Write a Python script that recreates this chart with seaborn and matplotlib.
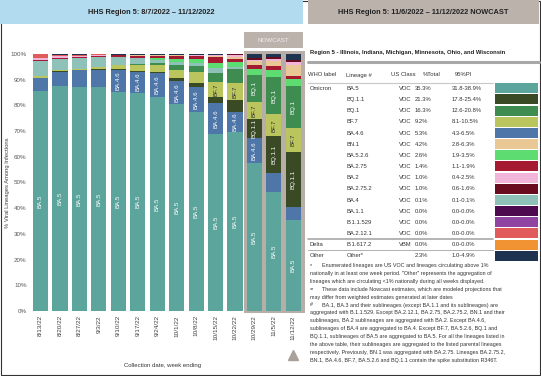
import matplotlib
matplotlib.use("Agg")
import matplotlib.pyplot as plt
from matplotlib.patches import Rectangle
from matplotlib.lines import Line2D
import seaborn as sns
import pandas as pd

W, H = 541, 376

weeks = ["8/13/22", "8/20/22", "8/27/22", "9/3/22", "9/10/22", "9/17/22", "9/24/22",
         "10/1/22", "10/8/22", "10/15/22", "10/22/22", "10/29/22", "11/5/22", "11/12/22"]

# stacking order, bottom to top
lineages = ["BA.5", "BA.4.6", "BQ.1.1", "BF.7", "BQ.1", "BA.4", "BA.5.2.6", "BA.2.75",
            "BN.1", "BA.2", "BA.2.75.2", "BA.2.12.1", "BA.1.1", "B.1.1.529", "B.1.617.2", "Other"]

ba5 = [85.6, 87.5, 87.3, 87.0, 85.3, 85.0, 83.4, 80.5, 77.3, 69.0, 69.5, 57.6, 46.4, 35.3]
ba46 = [5.2, 5.6, 6.5, 6.8, 8.5, 8.1, 9.1, 9.1, 9.7, 12.0, 8.1, 9.6, 7.3, 5.3]
bq11 = [0.0, 0.1, 0.1, 0.2, 0.3, 0.4, 0.6, 0.9, 1.6, 2.2, 4.5, 7.6, 14.3, 21.3]
bf7 = [0.6, 0.5, 0.4, 1.0, 1.6, 2.2, 2.6, 3.3, 4.5, 6.0, 6.5, 6.6, 8.5, 9.2]
bq1 = [0.0, 0.1, 0.0, 0.1, 0.1, 0.4, 0.8, 1.9, 2.2, 3.5, 5.5, 10.4, 14.5, 16.3]
ba4 = [6.0, 4.2, 4.0, 3.6, 2.9, 2.2, 1.3, 1.0, 1.1, 1.7, 0.8, 0.2, 0.2, 0.1]
ba526 = [0.0, 0.0, 0.0, 0.1, 0.2, 0.3, 0.6, 1.3, 1.6, 2.2, 1.8, 2.0, 2.5, 2.6]
ba275 = [0.3, 0.6, 0.7, 0.6, 0.7, 0.8, 1.0, 1.3, 1.2, 2.3, 1.4, 1.6, 1.5, 1.4]
bn1 = [0.0, 0.0, 0.0, 0.0, 0.0, 0.1, 0.1, 0.2, 0.2, 0.3, 0.9, 1.6, 2.2, 4.2]
ba2 = [0.7, 0.6, 0.4, 0.2, 0.2, 0.2, 0.2, 0.2, 0.2, 0.3, 0.5, 0.6, 0.5, 1.0]
ba2752 = [0.0, 0.0, 0.0, 0.0, 0.0, 0.1, 0.1, 0.1, 0.2, 0.3, 0.4, 0.8, 0.8, 1.0]
ba2121 = [1.6, 0.6, 0.4, 0.3, 0.0, 0.0, 0.0, 0.0, 0.0, 0.0, 0.0, 0.0, 0.0, 0.0]
ba11 = [0.0] * 14
b11529 = [0.0] * 14
delta = [0.0] * 14
other = [0.0, 0.2, 0.2, 0.1, 0.2, 0.2, 0.2, 0.2, 0.2, 0.2, 0.1, 1.4, 1.3, 2.3]

shares = [ba5, ba46, bq11, bf7, bq1, ba4, ba526, ba275, bn1, ba2, ba2752, ba2121,
          ba11, b11529, delta, other]

palette = {
    "BA.5": "#5ba59c", "BA.4.6": "#4e76a8", "BQ.1.1": "#3a4a24", "BF.7": "#bac55e",
    "BQ.1": "#3f8c50", "BA.4": "#8ec2b8", "BA.5.2.6": "#5ddc72", "BA.2.75": "#a51a30",
    "BN.1": "#e9c896", "BA.2": "#f0b5d8", "BA.2.75.2": "#6a0c1f", "BA.2.12.1": "#e05b5a",
    "BA.1.1": "#4e0a4e", "B.1.1.529": "#8e44a0", "B.1.617.2": "#f29333", "Other": "#1e3350",
}

# nowcast table (11/6 - 11/12)
tbl_who = ["Omicron", "", "", "", "", "", "", "", "", "", "", "", "", "", "Delta", "Other"]
tbl_lineage = ["BA.5", "BQ.1.1", "BQ.1", "BF.7", "BA.4.6", "BN.1", "BA.5.2.6", "BA.2.75",
               "BA.2", "BA.2.75.2", "BA.4", "BA.1.1", "B.1.1.529", "BA.2.12.1", "B.1.617.2", "Other*"]
tbl_class = ["VOC"] * 14 + ["VBM", ""]
tbl_total = ["35.3%", "21.3%", "16.3%", "9.2%", "5.3%", "4.2%", "2.6%", "1.4%", "1.0%", "1.0%",
             "0.1%", "0.0%", "0.0%", "0.0%", "0.0%", "2.3%"]
tbl_pi = ["31.8-38.9%", "17.8-25.4%", "12.6-20.8%", "8.1-10.5%", "4.3-6.5%", "2.8-6.3%",
          "1.9-3.5%", "1.1-1.9%", "0.4-2.5%", "0.6-1.6%", "0.1-0.1%", "0.0-0.0%", "0.0-0.0%",
          "0.0-0.0%", "0.0-0.0%", "1.0-4.9%"]
tbl_swatch = ["BA.5", "BQ.1.1", "BQ.1", "BF.7", "BA.4.6", "BN.1", "BA.5.2.6", "BA.2.75",
              "BA.2", "BA.2.75.2", "BA.4", "BA.1.1", "B.1.1.529", "BA.2.12.1", "B.1.617.2", "Other"]

notes = [
    ("*", "Enumerated lineages are US VOC and lineages circulating above 1%"),
    ("", "nationally in at least one week period. \"Other\" represents the aggregation of"),
    ("", "lineages which are circulating <1% nationally during all weeks displayed."),
    ("**", "These data include Nowcast estimates, which are modeled projections that"),
    ("", "may differ from weighted estimates generated at later dates"),
    ("#", "BA.1, BA.3 and their sublineages (except BA.1.1 and its sublineages) are"),
    ("", "aggregated with B.1.1.529. Except BA.2.12.1, BA.2.75, BA.2.75.2, BN.1 and their"),
    ("", "sublineages, BA.2 sublineages are aggregated with BA.2. Except BA.4.6,"),
    ("", "sublineages of BA.4 are aggregated to BA.4. Except BF.7, BA.5.2.6, BQ.1 and"),
    ("", "BQ.1.1, sublineages of BA.5 are aggregated to BA.5. For all the lineages listed in"),
    ("", "the above table, their sublineages are aggregated to the listed parental lineages"),
    ("", "respectively. Previously, BN.1 was aggregated with BA.2.75. Lineages BA.2.75.2,"),
    ("", "BN.1, BA.4.6, BF.7, BA.5.2.6 and BQ.1.1 contain the spike substitution R346T."),
]

labelled = ["BA.5", "BA.4.6", "BQ.1.1", "BF.7", "BQ.1"]

sns.set_theme(style="white")
plt.rcParams["font.family"] = ["Liberation Sans", "DejaVu Sans"]

rows = []
for name, vals in zip(lineages, shares):
    for i, v in enumerate(vals):
        rows.append({"week": i, "lineage": name, "share": v})
df = pd.DataFrame(rows)


def fx(px):
    return px / W


def fy(py):
    return 1 - py / H


fig = plt.figure(figsize=(W / 100, H / 100), dpi=100)

# bar axes: bar centers at 40.5 + 19.45*i px, 0% at y=311, 100% at y=54
x0 = 40.5 - 0.5 * 19.45
x1 = 40.5 + 13.5 * 19.45
ax = fig.add_axes([fx(x0), fy(311), (x1 - x0) / W, 257 / H])
ax.set_facecolor("none")

ax.add_patch(Rectangle((10.47, -0.8), 3.13, 102.0, facecolor="#b7aea8",
                       edgecolor="none", zorder=0, clip_on=False))

sns.histplot(data=df, x="week", weights="share", hue="lineage",
             hue_order=lineages[::-1], palette=palette, multiple="stack",
             discrete=True, shrink=0.78, alpha=1, linewidth=0, legend=False, ax=ax)

for i in range(len(weeks)):
    bottom = 0
    for name, vals in zip(lineages, shares):
        v = vals[i]
        need = 5.8 if len(name) <= 4 else 7.5
        if name in labelled and v >= need:
            ax.text(i, bottom + v / 2, name, rotation=90, ha="center", va="center",
                    fontsize=4.4, color="#2b2b2b" if name == "BF.7" else "white")
        bottom += v

ax.set_xlim(-0.5, 13.5)
ax.set_ylim(0, 100)
ax.set_yticks(range(0, 101, 10))
ax.set_yticklabels([f"{v}%" for v in range(0, 101, 10)])
ax.set_xticks(range(len(weeks)))
ax.set_xticklabels(weeks, rotation=90)
ax.tick_params(axis="y", length=0, pad=3, labelsize=4.5, labelcolor="#595959")
ax.tick_params(axis="x", length=0, pad=3, labelsize=4.6, labelcolor="#404040")
ax.set_xlabel("")
ax.set_ylabel("")
ax.grid(False)
for s in ax.spines.values():
    s.set_visible(False)

# nowcast marker under the last week
ax.plot([13], [-17.2], marker="^", markersize=7, color="#a9a09a", clip_on=False,
        linestyle="none")

fig.text(fx(8), fy(183), "% Viral Lineages Among Infections", rotation=90,
         ha="center", va="center", fontsize=4.2, color="#404040")
fig.text(fx(163), fy(365), "Collection date, week ending", ha="center", va="center",
         fontsize=4.3, color="#333333")

# frame and headers
fig.add_artist(Rectangle((fx(0.6), fy(375.4)), (W - 1.2) / W, 374.8 / H, fill=False,
                         edgecolor="#333333", linewidth=0.8, transform=fig.transFigure))
fig.add_artist(Rectangle((fx(0), fy(24)), fx(303), 24 / H, facecolor="#b3dbef",
                         edgecolor="none", transform=fig.transFigure))
fig.add_artist(Rectangle((fx(308), fy(24)), 231 / W, 24 / H, facecolor="#bbb2ac",
                         edgecolor="none", transform=fig.transFigure))
fig.text(fx(151.5), fy(13), "HHS Region 5: 8/7/2022 \u2013 11/12/2022", ha="center",
         va="center", fontsize=5.3, fontweight="bold", color="#222222")
fig.text(fx(423), fy(13), "HHS Region 5: 11/6/2022 \u2013 11/12/2022 NOWCAST",
         ha="center", va="center", fontsize=5.3, fontweight="bold", color="#222222")

fig.add_artist(Rectangle((fx(244), fy(48)), 59 / W, 16 / H, facecolor="#bbb2ac",
                         edgecolor="none", transform=fig.transFigure))
fig.text(fx(273.5), fy(40), "NOWCAST", ha="center", va="center", fontsize=4.5,
         color="#f4f1ef")

# right panel table
fig.text(fx(310), fy(52.3), "Region 5 - Illinois, Indiana, Michigan, Minnesota, Ohio, and Wisconsin",
         ha="left", va="center", fontsize=4.2, fontweight="bold", color="#222222")
fig.add_artist(Line2D([fx(308), fx(539)], [fy(61.7), fy(61.7)], color="#a8a8a8",
                      linewidth=2.2, transform=fig.transFigure))

hdr_y = 75
for x, t in [(308, "WHO label"), (346.5, "Lineage #"), (391, "US Class"),
             (423, "%Total"), (455, "95%PI")]:
    fig.text(fx(x), fy(hdr_y), t, ha="left", va="center", fontsize=4.2, color="#333333")
fig.add_artist(Line2D([fx(308), fx(493)], [fy(82.7), fy(82.7)], color="#c8c8c8",
                      linewidth=0.8, transform=fig.transFigure))

row_top = 83.3
row_step = 11.16
for k in range(len(tbl_lineage)):
    top = row_top + k * row_step
    yc = top + 5.2
    fig.text(fx(310), fy(yc), tbl_who[k], ha="left", va="center", fontsize=4.2, color="#333333")
    fig.text(fx(346.5), fy(yc), tbl_lineage[k], ha="left", va="center", fontsize=4.2, color="#333333")
    fig.text(fx(399), fy(yc), tbl_class[k], ha="left", va="center", fontsize=4.2, color="#333333")
    fig.text(fx(415), fy(yc), tbl_total[k], ha="left", va="center", fontsize=4.2, color="#333333")
    fig.text(fx(452), fy(yc), tbl_pi[k], ha="left", va="center", fontsize=4.2, color="#333333")
    fig.add_artist(Rectangle((fx(495), fy(top + 10)), 43 / W, 10 / H,
                             facecolor=palette[tbl_swatch[k]], edgecolor="none",
                             transform=fig.transFigure))

fig.add_artist(Line2D([fx(308), fx(493)], [fy(238.8), fy(238.8)], color="#a8a8a8",
                      linewidth=1.2, transform=fig.transFigure))
fig.add_artist(Line2D([fx(308), fx(493)], [fy(250.2), fy(250.2)], color="#b0b0b0",
                      linewidth=0.7, transform=fig.transFigure))

for k, (mark, txt) in enumerate(notes):
    y = 265.7 + k * 7.86
    if mark:
        fig.text(fx(310), fy(y), mark, ha="left", va="center", fontsize=3.9, color="#333333")
        fig.text(fx(322), fy(y), txt, ha="left", va="center", fontsize=3.9, color="#333333")
    else:
        fig.text(fx(310), fy(y), txt, ha="left", va="center", fontsize=3.9, color="#333333")

fig.savefig("out.png", dpi=100)
